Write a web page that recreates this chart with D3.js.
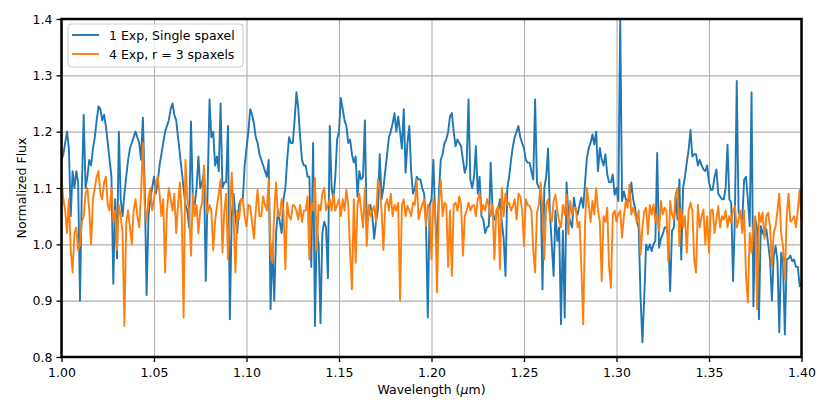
<!DOCTYPE html>
<html>
<head>
<meta charset="utf-8">
<script src="https://cdn.jsdelivr.net/npm/d3@7"></script>
<style>
  body { margin: 0; background: #fff; }
  text { font-family: "DejaVu Sans", sans-serif; }
</style>
</head>
<body>
<svg id="chart" width="830" height="415"></svg>
<script>
// wavelength grid (micron): first sample and spacing
const wavelengthStart = 1.0;
const wavelengthStep = 0.001;

const seriesNames = ["1 Exp, Single spaxel", "4 Exp, r = 3 spaxels"];

const xTicks = [1.00, 1.05, 1.10, 1.15, 1.20, 1.25, 1.30, 1.35, 1.40];
const yTicks = [0.8, 0.9, 1.0, 1.1, 1.2, 1.3, 1.4];

// normalized flux, one value per 0.001 micron, 10 per row
const singleSpaxel = [
  1.15,
  1.16, 1.18, 1.20, 1.17, 1.05, 1.13, 1.10, 1.13, 1.11, 0.90,
  1.10, 1.23, 1.10, 1.12, 1.15, 1.14, 1.17, 1.19, 1.22, 1.245,
  1.24, 1.22, 1.23, 1.21, 1.18, 1.15, 1.12, 0.93, 1.08, 0.975,
  1.20, 1.08, 1.05, 1.09, 1.12, 1.15, 1.17, 1.18, 1.19, 1.20,
  1.19, 1.18, 1.15, 1.225, 1.10, 0.91, 1.05, 1.08, 1.10, 1.12,
  1.09, 1.11, 1.14, 1.16, 1.18, 1.20, 1.21, 1.22, 1.24, 1.25,
  1.23, 1.22, 1.19, 1.16, 1.13, 1.10, 1.07, 1.06, 1.03, 1.218,
  1.08, 1.07, 1.10, 1.156, 1.10, 1.11, 1.127, 0.935, 1.10, 1.257,
  1.19, 1.20, 1.14, 1.156, 1.13, 1.25, 1.10, 1.11, 1.11, 1.21,
  0.867, 1.05, 1.09, 1.05, 1.02, 1.07, 1.08, 1.08, 1.14, 1.17,
  1.20, 1.24, 1.23, 1.215, 1.19, 1.18, 1.16, 1.15, 1.14, 1.13,
  1.12, 1.15, 0.885, 1.00, 0.90, 1.02, 1.06, 1.04, 1.02, 1.08,
  1.10, 1.15, 1.19, 1.18, 1.18, 1.22, 1.27, 1.24, 1.19, 1.15,
  1.14, 1.14, 1.12, 1.12, 0.96, 1.18, 0.855, 1.03, 1.00, 0.86,
  1.02, 1.04, 1.03, 0.94, 1.21, 1.10, 1.08, 1.12, 1.186, 1.20,
  1.26, 1.24, 1.22, 1.21, 1.18, 1.186, 1.16, 1.145, 1.156, 1.085,
  1.13, 1.115, 1.12, 1.22, 1.03, 1.06, 1.07, 1.05, 1.01, 1.04,
  1.06, 1.16, 1.08, 1.10, 1.13, 1.16, 1.19, 1.20, 1.215, 1.233,
  1.20, 1.227, 1.20, 1.17, 1.24, 1.127, 1.18, 1.21, 1.13, 1.09,
  1.10, 1.12, 1.115, 1.115, 1.10, 1.09, 1.04, 0.87, 1.07, 1.08,
  1.15, 1.05, 1.00, 1.09, 1.15, 1.16, 1.18, 1.186, 1.20, 1.227,
  1.233, 1.20, 1.174, 1.186, 1.18, 1.174, 1.15, 1.127, 1.14, 1.257,
  1.115, 1.10, 1.12, 1.174, 1.09, 1.12, 1.05, 1.044, 1.02, 1.03,
  1.032, 1.145, 1.06, 1.044, 1.05, 1.06, 1.08, 1.04, 1.01, 0.944,
  1.10, 1.12, 1.15, 1.174, 1.19, 1.20, 1.21, 1.19, 1.18, 1.17,
  1.15, 1.145, 1.145, 1.13, 1.115, 1.257, 1.11, 1.10, 1.10, 0.92,
  1.10, 1.12, 1.17, 1.056, 1.00, 0.944, 1.06, 1.006, 1.03, 0.858,
  1.024, 0.87, 1.11, 1.053, 1.04, 1.03, 1.083, 1.06, 1.053, 1.07,
  1.083, 1.065, 1.11, 1.153, 1.171, 1.18, 1.195, 1.177, 1.20, 1.13,
  1.171, 1.15, 1.14, 1.16, 1.124, 1.11, 1.11, 1.124, 1.088, 1.10,
  1.077, 1.40, 1.077, 1.094, 1.08, 1.077, 1.077, 1.11, 1.08, 1.065,
  1.04, 1.03, 0.906, 0.826, 0.906, 1.00, 0.99, 1.00, 0.988, 1.00,
  1.006, 1.162, 0.994, 1.01, 1.018, 1.03, 1.03, 1.012, 0.917, 1.024,
  1.03, 1.085, 1.044, 1.115, 0.973, 1.10, 1.12, 1.145, 1.168, 1.203,
  1.156, 1.16, 1.16, 1.14, 1.15, 1.14, 1.133, 1.13, 1.14, 1.11,
  1.097, 1.097, 1.12, 1.133, 1.09, 1.085, 1.08, 1.08, 1.10, 1.177,
  1.08, 1.074, 0.935, 1.05, 1.29, 1.056, 1.05, 1.044, 1.115, 1.12,
  1.08, 1.032, 1.27, 0.89, 1.044, 1.03, 0.867, 1.032, 1.02, 1.015,
  1.027, 1.00, 0.973, 0.90, 0.98, 0.997, 0.97, 0.844, 0.985, 0.97,
  0.84, 0.973, 0.975, 0.98, 0.97, 0.973, 0.96, 0.96, 0.926, 0.93
];

const threeSpaxels = [
  1.12,
  1.08, 1.06, 1.02, 1.08, 0.99, 0.95, 1.02, 1.03, 0.99, 1.00,
  1.04, 1.05, 1.09, 1.10, 1.06, 1.00, 1.08, 1.10, 1.12, 1.13,
  1.09, 1.08, 1.11, 1.12, 1.07, 1.06, 1.10, 1.04, 1.06, 0.99,
  1.07, 1.05, 1.02, 0.855, 1.04, 1.06, 1.03, 1.00, 1.06, 1.08,
  1.05, 1.03, 1.09, 1.18, 1.07, 1.04, 1.08, 1.10, 1.06, 1.08,
  1.11, 1.12, 1.09, 1.05, 1.08, 0.95, 1.06, 1.10, 1.08, 1.06,
  1.09, 1.02, 1.07, 1.11, 1.05, 0.87, 1.15, 1.08, 1.06, 0.98,
  1.09, 1.05, 1.07, 1.02, 1.06, 1.074, 1.14, 1.08, 1.056, 1.07,
  1.06, 0.99, 1.04, 1.068, 1.09, 1.115, 0.985, 1.06, 1.09, 0.973,
  1.06, 1.127, 1.05, 0.95, 1.06, 1.044, 1.08, 1.08, 1.05, 1.032,
  1.07, 1.068, 1.04, 1.01, 1.06, 1.097, 1.05, 1.05, 1.085, 1.07,
  1.06, 1.115, 0.985, 0.967, 1.06, 1.11, 1.05, 1.05, 1.08, 1.06,
  0.956, 1.074, 1.05, 1.044, 1.07, 1.068, 1.06, 1.044, 1.07, 1.04,
  1.06, 1.06, 1.085, 0.973, 1.074, 1.06, 1.118, 0.99, 1.07, 1.06,
  1.09, 1.10, 1.06, 1.07, 1.08, 1.06, 1.09, 1.06, 1.07, 1.08,
  1.05, 1.08, 1.06, 1.097, 1.07, 0.985, 0.92, 1.08, 0.967, 1.07,
  1.09, 1.06, 1.03, 1.10, 0.997, 1.07, 1.05, 1.06, 1.068, 1.04,
  1.115, 1.10, 1.06, 0.99, 1.07, 1.08, 1.06, 1.09, 1.05, 1.07,
  1.06, 1.074, 0.90, 1.07, 1.08, 1.05, 1.068, 1.06, 1.05, 1.074,
  1.07, 1.115, 1.044, 1.06, 1.07, 1.08, 1.032, 1.07, 1.06, 0.973,
  1.08, 1.06, 0.915, 1.07, 1.115, 1.05, 1.074, 1.07, 0.96, 1.06,
  0.944, 1.07, 1.074, 1.06, 1.085, 1.07, 0.98, 1.05, 1.06, 1.074,
  1.06, 1.068, 1.07, 1.05, 1.08, 1.09, 1.056, 1.07, 1.06, 1.08,
  1.068, 1.05, 1.07, 0.973, 1.06, 1.068, 0.956, 1.10, 1.05, 1.09,
  1.07, 1.074, 1.06, 1.068, 1.08, 1.044, 1.09, 1.085, 1.06, 0.997,
  1.08, 1.07, 1.068, 1.06, 0.99, 0.95, 1.056, 1.07, 1.11, 1.06,
  0.973, 1.07, 1.08, 1.05, 1.04, 1.077, 1.088, 1.06, 1.04, 1.03,
  1.07, 1.053, 1.088, 1.018, 1.077, 1.053, 1.065, 1.065, 1.03, 1.04,
  0.959, 0.858, 1.04, 1.10, 1.07, 1.04, 1.077, 1.053, 1.10, 1.06,
  1.04, 0.935, 1.05, 1.04, 1.065, 0.959, 0.923, 1.053, 1.06, 1.04,
  1.053, 1.06, 1.012, 1.05, 1.077, 1.065, 1.106, 1.053, 1.065, 1.053,
  1.04, 1.06, 0.982, 1.03, 1.059, 1.065, 1.018, 1.07, 1.053, 1.071,
  1.04, 1.053, 1.024, 1.077, 1.053, 1.065, 1.06, 0.97, 1.077, 1.053,
  1.044, 1.09, 1.10, 0.997, 1.064, 1.03, 1.05, 0.985, 1.06, 1.074,
  1.06, 0.973, 0.95, 1.07, 1.03, 1.05, 1.062, 1.00, 1.05, 0.985,
  1.06, 1.062, 1.02, 1.044, 1.068, 1.03, 1.05, 1.044, 1.06, 1.03,
  1.05, 1.038, 1.06, 1.068, 1.03, 1.044, 1.06, 1.02, 1.06, 0.944,
  0.897, 1.02, 0.985, 1.032, 1.05, 0.885, 1.056, 1.04, 1.056, 1.01,
  1.05, 1.056, 1.03, 0.96, 1.02, 1.032, 1.06, 1.09, 1.02, 0.997,
  0.938, 1.05, 1.09, 1.04, 1.044, 1.05, 1.03, 1.06, 1.097, 1.044
];

const colors = ["#1f77b4", "#ff7f0e"];

const svg = d3.select("#chart");
const plotLeft = 61.5, plotRight = 801.5, plotTop = 19, plotBottom = 357;

const x = d3.scaleLinear().domain([1.0, 1.4]).range([plotLeft, plotRight]);
const y = d3.scaleLinear().domain([0.8, 1.4]).range([plotBottom, plotTop]);

svg.append("rect").attr("width", 830).attr("height", 415).attr("fill", "#fff");

// grid
svg.append("g")
  .attr("transform", `translate(0,${plotBottom})`)
  .call(d3.axisBottom(x).tickValues(xTicks).tickSize(-(plotBottom - plotTop)).tickFormat(""))
  .call(g => g.select(".domain").remove())
  .selectAll("line").attr("stroke", "#b0b0b0").attr("stroke-width", 1.1);

svg.append("g")
  .attr("transform", `translate(${plotLeft},0)`)
  .call(d3.axisLeft(y).tickValues(yTicks).tickSize(-(plotRight - plotLeft)).tickFormat(""))
  .call(g => g.select(".domain").remove())
  .selectAll("line").attr("stroke", "#b0b0b0").attr("stroke-width", 1.1);

svg.append("clipPath").attr("id", "plot-clip")
  .append("rect")
  .attr("x", plotLeft).attr("y", plotTop)
  .attr("width", plotRight - plotLeft).attr("height", plotBottom - plotTop);

const line = d3.line()
  .x((d, i) => x(wavelengthStart + i * wavelengthStep))
  .y(d => y(d));

[singleSpaxel, threeSpaxels].forEach((series, k) => {
  svg.append("path")
    .datum(series)
    .attr("clip-path", "url(#plot-clip)")
    .attr("fill", "none")
    .attr("stroke", colors[k])
    .attr("stroke-width", 1.9)
    .attr("stroke-linejoin", "round")
    .attr("d", line);
});

// axes
const xAxis = svg.append("g")
  .attr("transform", `translate(0,${plotBottom})`)
  .call(d3.axisBottom(x).tickValues(xTicks).tickFormat(d3.format(".2f")).tickSize(5).tickPadding(6));

const yAxis = svg.append("g")
  .attr("transform", `translate(${plotLeft},0)`)
  .call(d3.axisLeft(y).tickValues(yTicks).tickFormat(d3.format(".1f")).tickSize(5).tickPadding(4));

[xAxis, yAxis].forEach(g => {
  g.select(".domain").remove();
  g.selectAll("line").attr("stroke", "#000").attr("stroke-width", 1.3);
  g.selectAll("text")
    .attr("fill", "#000")
    .style("font-size", "12.5px")
    .style("font-family", "'DejaVu Sans', sans-serif");
});

// frame
svg.append("rect")
  .attr("x", plotLeft).attr("y", plotTop)
  .attr("width", plotRight - plotLeft).attr("height", plotBottom - plotTop)
  .attr("fill", "none")
  .attr("stroke", "#000")
  .attr("stroke-width", 2.5);

// axis labels
svg.append("text")
  .attr("transform", `translate(21,${(plotTop + plotBottom) / 2}) rotate(-90)`)
  .attr("text-anchor", "middle")
  .attr("dominant-baseline", "central")
  .style("font-size", "12.5px")
  .text("Normalized Flux");

const xl = svg.append("text")
  .attr("x", (plotLeft + plotRight) / 2)
  .attr("y", 393.5)
  .attr("text-anchor", "middle")
  .style("font-size", "12.5px");
xl.append("tspan").text("Wavelength (");
xl.append("tspan").attr("font-style", "italic").text("\u03bc");
xl.append("tspan").text("m)");

// legend
const legend = svg.append("g");
legend.append("rect")
  .attr("x", 68).attr("y", 24)
  .attr("width", 175).attr("height", 43)
  .attr("rx", 3)
  .attr("fill", "#fff").attr("fill-opacity", 0.8)
  .attr("stroke", "#cccccc").attr("stroke-width", 1);

seriesNames.forEach((name, k) => {
  const cy = 35 + k * 19;
  legend.append("line")
    .attr("x1", 72).attr("x2", 99)
    .attr("y1", cy).attr("y2", cy)
    .attr("stroke", colors[k]).attr("stroke-width", 1.9);
  legend.append("text")
    .attr("x", 109).attr("y", cy)
    .attr("dominant-baseline", "central")
    .style("font-size", "12.5px")
    .text(name);
});
</script>
</body>
</html>
